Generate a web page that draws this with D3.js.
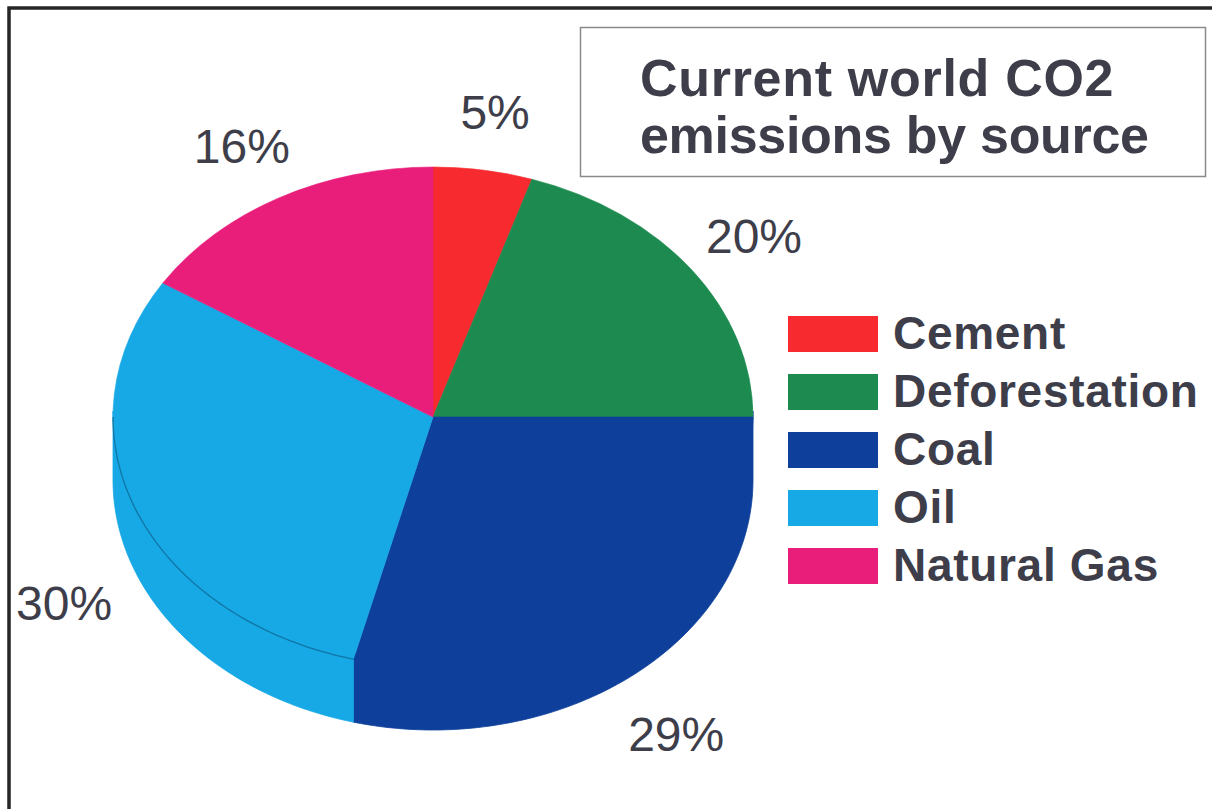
<!DOCTYPE html>
<html>
<head>
<meta charset="utf-8">
<script src="https://cdn.jsdelivr.net/npm/d3@7"></script>
<style>
  html, body { margin: 0; padding: 0; background: #fff; }
  svg { display: block; }
  text { font-family: "Liberation Sans", Arial, sans-serif; }
</style>
</head>
<body>
<svg id="chart" width="1212" height="809"></svg>
<script>
// Emission sources and their shares (percent)
const sources = ["Cement", "Deforestation", "Coal", "Oil", "Natural Gas"];
const shares = [5, 20, 29, 30, 16];
const colors = ["#f72b2f", "#1d8b4f", "#0e409b", "#17a8e6", "#e91e7a"];
const titleLines = ["Current world CO2", "emissions by source"];

const W = 1212, H = 809;
const svg = d3.select("#chart");

// Outer frame (left and top edges)
svg.append("path")
  .attr("d", `M9,${H} L9,8 L${W},8`)
  .attr("fill", "none")
  .attr("stroke", "#262626")
  .attr("stroke-width", 3.5);

// Tilted pie geometry
const cx = 433, cy = 417, rx = 320, ry = 250, depth = 63;
const textColor = "#3e3e4b";

const pie = d3.pie().sort(null).value(d => d.value);
const arcs = pie(sources.map((s, i) => ({ name: s, value: shares[i], color: colors[i] })));

// point on the elliptical rim, angle measured clockwise from 12 o'clock
const rim = (a, dy = 0) => [cx + rx * Math.sin(a), cy - ry * Math.cos(a) + dy];

// Side walls: only the front half (angles between PI/2 and 3PI/2) is visible.
// Their upper edge tucks a few pixels under the top face so no seam shows.
const line = d3.line();
const sideG = svg.append("g");
arcs.forEach(d => {
  const a0 = Math.max(d.startAngle, Math.PI / 2);
  const a1 = Math.min(d.endAngle, 3 * Math.PI / 2);
  if (a1 <= a0) return;
  const steps = d3.range(0, 81).map(k => a0 + (a1 - a0) * k / 80);
  const pts = steps.map(a => rim(a, -6)).concat(steps.slice().reverse().map(a => rim(a, depth)));
  sideG.append("path")
    .attr("d", line(pts) + "Z")
    .attr("fill", d.data.color)
    .attr("stroke", d.data.color)
    .attr("stroke-width", 0.8);
});

// Top face drawn with d3.arc, squashed vertically into an ellipse
const arc = d3.arc().innerRadius(0).outerRadius(rx);
svg.append("g")
  .attr("transform", `translate(${cx},${cy}) scale(1,${ry / rx})`)
  .selectAll("path")
  .data(arcs)
  .join("path")
  .attr("d", arc)
  .attr("fill", d => d.data.color)
  .attr("stroke", d => d.data.color)
  .attr("stroke-width", 0.6)
  .attr("vector-effect", "non-scaling-stroke");

// Rim edge where the light slice's top face meets its side wall
const oil = arcs[3];
const e0 = Math.max(oil.startAngle, Math.PI / 2);
const e1 = Math.min(oil.endAngle, 3 * Math.PI / 2);
const edgeSteps = d3.range(0, 81).map(k => e0 + (e1 - e0) * k / 80);
svg.append("path")
  .attr("d", line(edgeSteps.map(a => rim(a))))
  .attr("fill", "none")
  .attr("stroke", "rgba(10,70,100,0.5)")
  .attr("stroke-width", 1.3);

// Percentage labels around the pie
const labelK = 1.24;
svg.append("g")
  .selectAll("text")
  .data(arcs)
  .join("text")
  .attr("x", d => {
    const a = (d.startAngle + d.endAngle) / 2;
    return cx + labelK * rx * Math.sin(a);
  })
  .attr("y", d => {
    const a = (d.startAngle + d.endAngle) / 2;
    const c = Math.cos(a);
    return cy - labelK * ry * c + (c < 0 ? depth + 8 : 0) + 18;
  })
  .attr("text-anchor", "middle")
  .attr("font-size", 48)
  .attr("fill", textColor)
  .text(d => d.data.value + "%");

// Title box
svg.append("rect")
  .attr("x", 580.5).attr("y", 27.5)
  .attr("width", 625).attr("height", 149)
  .attr("fill", "#fff")
  .attr("stroke", "#8a8a8a")
  .attr("stroke-width", 1.5);

svg.append("g")
  .selectAll("text")
  .data(titleLines)
  .join("text")
  .attr("x", 640)
  .attr("y", (d, i) => 96 + i * 57)
  .attr("font-size", 52)
  .attr("font-weight", "bold")
  .attr("letter-spacing", (d, i) => i === 0 ? 0.7 : -0.3)
  .attr("fill", textColor)
  .text(d => d);

// Legend
const legend = svg.append("g")
  .selectAll("g")
  .data(sources)
  .join("g")
  .attr("transform", (d, i) => `translate(788,${316 + i * 58})`);

legend.append("rect")
  .attr("width", 90).attr("height", 36)
  .attr("fill", (d, i) => colors[i]);

legend.append("text")
  .attr("x", 105)
  .attr("y", 33)
  .attr("font-size", 46)
  .attr("font-weight", "bold")
  .attr("letter-spacing", 0.7)
  .attr("fill", textColor)
  .text(d => d);
</script>
</body>
</html>
